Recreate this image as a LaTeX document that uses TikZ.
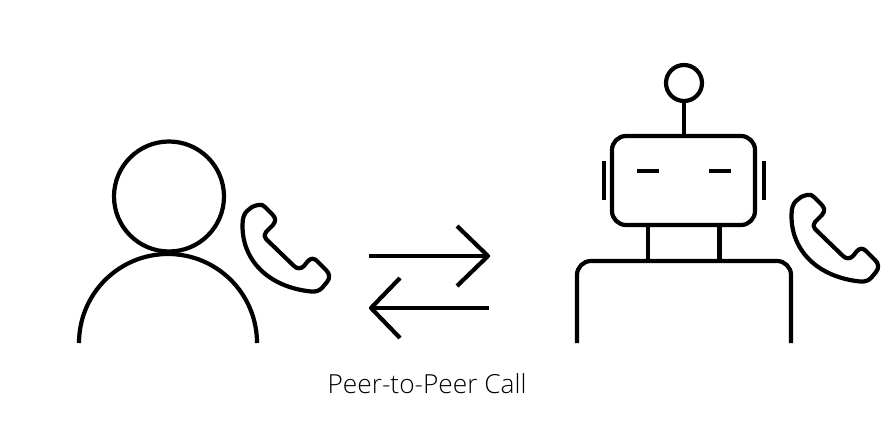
\documentclass[tikz,border=0pt]{standalone}
\usepackage{fontspec}
\setmainfont{Open Sans}[UprightFont=* Light]
\tikzset{
  ink/.style={draw=black,line width=3.15pt,line join=round},
  thin ink/.style={draw=black,line width=2.9pt},
  phone/.pic={
    \draw[ink] (258,205) .. controls (261,204) and (263,205) .. (265,207)
      -- (272,214) .. controls (276,218) and (276,221) .. (273,225)
      -- (266,232) .. controls (264,234) and (264,237) .. (266,239)
      -- (294,266) .. controls (297,269) and (301,269) .. (304,266)
      -- (308,261) .. controls (311,258) and (314,258) .. (317,261)
      -- (326,270) .. controls (330,274) and (330,278) .. (327,282)
      -- (322,288) .. controls (319,291) and (315,292) .. (311,291.5)
      .. controls (268,287) and (242,260) .. (242.5,225)
      .. controls (242.5,218) and (244,214) .. (247,211)
      -- (252,207) .. controls (254,206) and (256,205.5) .. (258,205) -- cycle;
  }
}
\begin{document}
\begin{tikzpicture}[x=0.75pt,y=-0.75pt]
\useasboundingbox (0,0) rectangle (895,428);
% person
\draw[ink] (169,196.5) circle (55);
\draw[ink,line cap=butt] (79,343) arc[start angle=180,end angle=360,radius=89];
\pic at (0,0) {phone};
% arrows
\coordinate (ra) at (369,256); \coordinate (rb) at (488,256);
\coordinate (rc) at (457,226); \coordinate (rd) at (457,286);
\coordinate (la) at (489,308); \coordinate (lb) at (371,308);
\coordinate (lc) at (400,278); \coordinate (ld) at (400,338);
\draw[ink] (ra) -- (rb);
\draw[ink] (rc) -- (rb) -- (rd);
\draw[ink] (la) -- (lb);
\draw[ink] (lc) -- (lb) -- (ld);
% robot
\draw[ink] (684,83) circle (18);
\draw[ink] (684,101) -- (684,136);
\draw[ink,rounded corners=10.5pt] (612,136) rectangle (755,225);
\draw[thin ink] (637,171) -- (659,171);
\draw[thin ink] (709,171) -- (731,171);
\draw[thin ink] (604,161) -- (604,200);
\draw[thin ink] (764,161) -- (764,200);
\draw[ink] (648,225) -- (648,261);
\draw[ink] (719.5,225) -- (719.5,261);
\draw[ink,rounded corners=10.5pt] (577,343) -- (577,261) -- (791,261) -- (791,343);
\pic at (549,-10) {phone};
% label
\node[text=black,font=\fontsize{19.7pt}{23pt}\selectfont,inner sep=0pt] (label) at (427,384) {Peer-to-Peer Call};
\end{tikzpicture}
\end{document}
